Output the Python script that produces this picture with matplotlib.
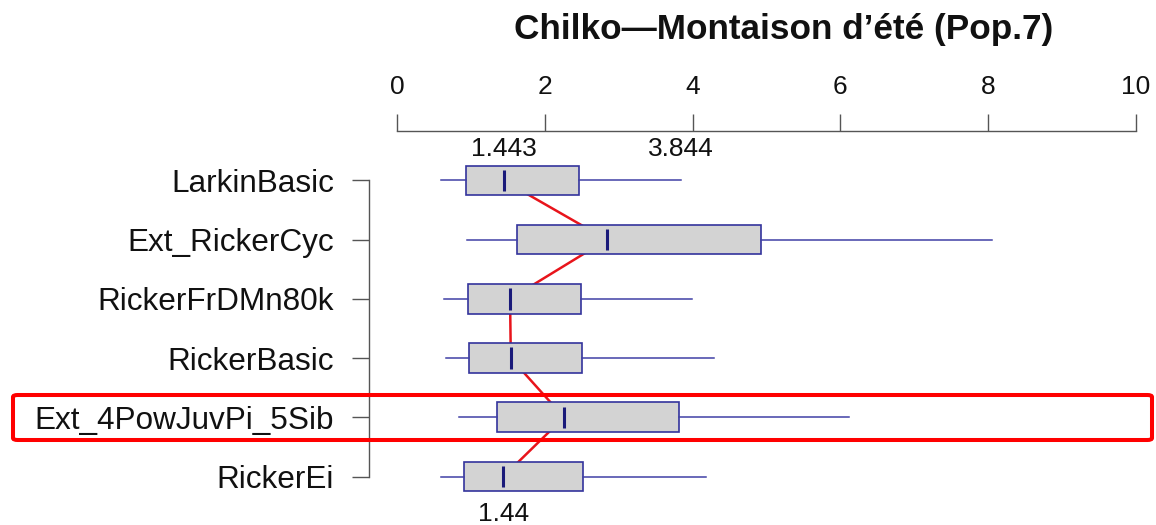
import matplotlib
matplotlib.use("Agg")
import matplotlib.pyplot as plt
from matplotlib.patches import FancyBboxPatch

plt.rcParams['font.family'] = ['Liberation Sans', 'DejaVu Sans']

# Model names, top to bottom
models = ["LarkinBasic", "Ext_RickerCyc", "RickerFrDMn80k", "RickerBasic",
          "Ext_4PowJuvPi_5Sib", "RickerEi"]
# Five-number summaries per model
whisker_low = [0.59, 0.95, 0.63, 0.66, 0.84, 0.59]
q1 = [0.93, 1.63, 0.965, 0.98, 1.35, 0.90]
medians = [1.443, 2.84, 1.53, 1.54, 2.26, 1.44]
q3 = [2.46, 4.92, 2.49, 2.51, 3.82, 2.52]
whisker_high = [3.844, 8.05, 3.99, 4.29, 6.11, 4.18]

x_ticks = [0, 2, 4, 6, 8, 10]
highlight = "Ext_4PowJuvPi_5Sib"

W, H = 1156, 525
fig = plt.figure(figsize=(W / 100, H / 100), dpi=100)

row_px = 59.2
top_spine_px = 131
first_row_px = 180.5
y_top = 1 - (first_row_px - top_spine_px) / row_px
y_bot = 6.9
ax_top_frac = 1 - top_spine_px / H
ax_h_frac = (y_bot - y_top) * row_px / H
ax = fig.add_axes([397 / W, ax_top_frac - ax_h_frac, 739 / W, ax_h_frac])

positions = list(range(1, len(models) + 1))

# Median trend line, drawn behind the boxes
ax.plot(medians, positions, color="#E8141B", lw=1.8, zorder=1)

stats = []
for i, name in enumerate(models):
    stats.append(dict(label=name, whislo=whisker_low[i], q1=q1[i], med=medians[i],
                      q3=q3[i], whishi=whisker_high[i], fliers=[]))

ax.bxp(stats, positions=positions, orientation="horizontal", widths=0.5,
       patch_artist=True, showcaps=False, showfliers=False,
       boxprops=dict(facecolor="#D3D3D3", edgecolor="#33339C", linewidth=1.2),
       whiskerprops=dict(color="#4040A6", linewidth=1.1),
       medianprops=dict(linewidth=0), zorder=2)

# Short median ticks
ax.vlines(medians, [p - 0.18 for p in positions], [p + 0.18 for p in positions],
          color="#1A1A7A", lw=2.2, zorder=4)

ax.set_xlim(0, 10)
ax.set_ylim(y_bot, y_top)

for s in ["right", "bottom"]:
    ax.spines[s].set_visible(False)
ax.spines["top"].set_bounds(0, 10)
ax.spines["left"].set_position(("outward", 20.2))
ax.spines["left"].set_bounds(1, 6)
for s in ["top", "left"]:
    ax.spines[s].set_color("#555555")
    ax.spines[s].set_linewidth(1.0)

ax.xaxis.tick_top()
ax.set_xticks(x_ticks)
ax.set_xticklabels([str(t) for t in x_ticks])
ax.set_yticks(positions)
ax.set_yticklabels(models)
ax.tick_params(axis="x", direction="out", length=12.2, width=1.0, color="#555555",
               pad=10.5, labelsize=19, labelcolor="#111111")
ax.tick_params(axis="y", direction="out", length=12.2, width=1.0, color="#555555",
               pad=13, labelsize=22.7, labelcolor="#111111")
ax.set_facecolor("none")

# Value annotations
label_kw = dict(ha="center", va="center", fontsize=19, color="#111111", clip_on=False)
ax.text(medians[0], positions[0] - 0.54, f"{medians[0]:.3f}", **label_kw)
ax.text(whisker_high[0], positions[0] - 0.54, f"{whisker_high[0]:.3f}", **label_kw)
ax.text(medians[-1], positions[-1] + 0.63, f"{medians[-1]:.2f}", **label_kw)

# Highlight frame around the selected model row
x0, x1 = 13, 1152
y0, y1 = 395, 440
frame = FancyBboxPatch((x0 / W, 1 - y1 / H), (x1 - x0) / W, (y1 - y0) / H,
                       boxstyle="round,pad=0,rounding_size=0.004",
                       transform=fig.transFigure, fill=False,
                       edgecolor="#FF0000", linewidth=2.9, zorder=10)
fig.patches.append(frame)

fig.text(784 / W, 1 - 30 / H, "Chilko\u2014Montaison d\u2019été (Pop.7)",
         ha="center", va="center", fontsize=25.3, fontweight="bold", color="#111111")

fig.savefig("out.png", dpi=100)
